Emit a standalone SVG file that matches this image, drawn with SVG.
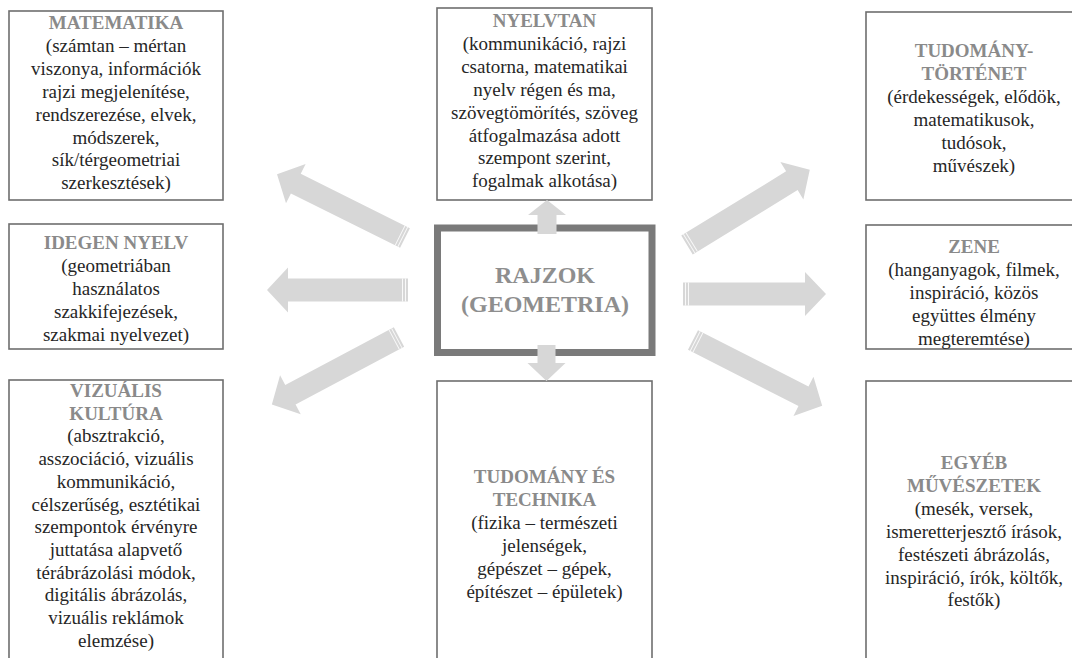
<svg xmlns="http://www.w3.org/2000/svg" width="1072" height="658" viewBox="0 0 1072 658">
<style>
  .box{fill:#ffffff;stroke:#6e6e6e;stroke-width:1.6}
  .core{fill:#ffffff;stroke:#7a7a7a;stroke-width:7}
  .t{font-size:19px;fill:#262626;text-anchor:middle}
  .h{font-weight:bold;fill:#8a8a8a}
  .big{font-size:24px;font-weight:bold;fill:#8e8e8e}
  .arr{fill:#d7d7d7}
  .tail{stroke:#ffffff;stroke-width:1;opacity:0.85}
</style>
<rect x="0" y="0" width="1072" height="658" fill="#ffffff"/>

<g id="n-matematika">
  <rect class="box" x="9" y="11" width="214" height="189"/>
  <text class="t" font-family="Liberation Serif, Times New Roman, Times, DejaVu Serif, serif" x="116" y="29"><tspan class="h" x="116">MATEMATIKA</tspan><tspan x="116" dy="22.9">(számtan – mértan</tspan><tspan x="116" dy="22.9">viszonya, információk</tspan><tspan x="116" dy="22.9">rajzi megjelenítése,</tspan><tspan x="116" dy="22.9">rendszerezése, elvek,</tspan><tspan x="116" dy="22.9">módszerek,</tspan><tspan x="116" dy="22.9">sík/térgeometriai</tspan><tspan x="116" dy="22.9">szerkesztések)</tspan></text>
</g>

<g id="n-nyelvtan">
  <rect class="box" x="437" y="8" width="215" height="192"/>
  <text class="t" font-family="Liberation Serif, Times New Roman, Times, DejaVu Serif, serif" x="544.5" y="27"><tspan class="h" x="544.5">NYELVTAN</tspan><tspan x="544.5" dy="22.9">(kommunikáció, rajzi</tspan><tspan x="544.5" dy="22.9">csatorna, matematikai</tspan><tspan x="544.5" dy="22.9">nyelv régen és ma,</tspan><tspan x="544.5" dy="22.9">szövegtömörítés, szöveg</tspan><tspan x="544.5" dy="22.9">átfogalmazása adott</tspan><tspan x="544.5" dy="22.9">szempont szerint,</tspan><tspan x="544.5" dy="22.9">fogalmak alkotása)</tspan></text>
</g>

<g id="n-tudomanytortenet">
  <rect class="box" x="866" y="12" width="215" height="188"/>
  <text class="t" font-family="Liberation Serif, Times New Roman, Times, DejaVu Serif, serif" x="974" y="57"><tspan class="h" x="974">TUDOMÁNY-</tspan><tspan class="h" x="974" dy="22.9">TÖRTÉNET</tspan><tspan x="974" dy="22.9">(érdekességek, elődök,</tspan><tspan x="974" dy="22.9">matematikusok,</tspan><tspan x="974" dy="22.9">tudósok,</tspan><tspan x="974" dy="22.9">művészek)</tspan></text>
</g>

<g id="n-idegen-nyelv">
  <rect class="box" x="9" y="224" width="214" height="125"/>
  <text class="t" font-family="Liberation Serif, Times New Roman, Times, DejaVu Serif, serif" x="116" y="249"><tspan class="h" x="116">IDEGEN NYELV</tspan><tspan x="116" dy="22.9">(geometriában</tspan><tspan x="116" dy="22.9">használatos</tspan><tspan x="116" dy="22.9">szakkifejezések,</tspan><tspan x="116" dy="22.9">szakmai nyelvezet)</tspan></text>
</g>

<g id="n-rajzok">
  <rect class="core" x="437.5" y="228" width="214.5" height="124.5"/>
  <text class="t big" font-family="Liberation Serif, Times New Roman, Times, DejaVu Serif, serif" x="545" y="283">RAJZOK</text>
  <text class="t big" font-family="Liberation Serif, Times New Roman, Times, DejaVu Serif, serif" x="545" y="312">(GEOMETRIA)</text>
</g>

<g id="n-zene">
  <rect class="box" x="866" y="225" width="215" height="124"/>
  <text class="t" font-family="Liberation Serif, Times New Roman, Times, DejaVu Serif, serif" x="974" y="253"><tspan class="h" x="974">ZENE</tspan><tspan x="974" dy="22.9">(hanganyagok, filmek,</tspan><tspan x="974" dy="22.9">inspiráció, közös</tspan><tspan x="974" dy="22.9">együttes élmény</tspan><tspan x="974" dy="22.9">megteremtése)</tspan></text>
</g>

<g id="n-vizualis-kultura">
  <rect class="box" x="9" y="380" width="214" height="300"/>
  <text class="t" font-family="Liberation Serif, Times New Roman, Times, DejaVu Serif, serif" x="116" y="397"><tspan class="h" x="116">VIZUÁLIS</tspan><tspan class="h" x="116" dy="22.7">KULTÚRA</tspan><tspan x="116" dy="22.7">(absztrakció,</tspan><tspan x="116" dy="22.7">asszociáció, vizuális</tspan><tspan x="116" dy="22.7">kommunikáció,</tspan><tspan x="116" dy="22.7">célszerűség, esztétikai</tspan><tspan x="116" dy="22.7">szempontok érvényre</tspan><tspan x="116" dy="22.7">juttatása alapvető</tspan><tspan x="116" dy="22.7">térábrázolási módok,</tspan><tspan x="116" dy="22.7">digitális ábrázolás,</tspan><tspan x="116" dy="22.7">vizuális reklámok</tspan><tspan x="116" dy="22.7">elemzése)</tspan></text>
</g>

<g id="n-tudomany-technika">
  <rect class="box" x="437" y="381" width="215" height="300"/>
  <text class="t" font-family="Liberation Serif, Times New Roman, Times, DejaVu Serif, serif" x="544.5" y="483"><tspan class="h" x="544.5">TUDOMÁNY ÉS</tspan><tspan class="h" x="544.5" dy="22.9">TECHNIKA</tspan><tspan x="544.5" dy="22.9">(fizika – természeti</tspan><tspan x="544.5" dy="22.9">jelenségek,</tspan><tspan x="544.5" dy="22.9">gépészet – gépek,</tspan><tspan x="544.5" dy="22.9">építészet – épületek)</tspan></text>
</g>

<g id="n-egyeb-muveszetek">
  <rect class="box" x="866" y="381" width="215" height="300"/>
  <text class="t" font-family="Liberation Serif, Times New Roman, Times, DejaVu Serif, serif" x="974" y="469"><tspan class="h" x="974">EGYÉB</tspan><tspan class="h" x="974" dy="22.9">MŰVÉSZETEK</tspan><tspan x="974" dy="22.9">(mesék, versek,</tspan><tspan x="974" dy="22.9">ismeretterjesztő írások,</tspan><tspan x="974" dy="22.9">festészeti ábrázolás,</tspan><tspan x="974" dy="22.9">inspiráció, írók, költők,</tspan><tspan x="974" dy="22.9">festők)</tspan></text>
</g>

<g id="connectors">
  <g transform="translate(405,238) rotate(206.5)">
    <polygon class="arr" points="0,-11 122,-11 122,-22 143,0 122,22 122,11 0,11"/>
    <line class="tail" x1="2.5" y1="-11" x2="2.5" y2="11"/><line class="tail" x1="5.5" y1="-11" x2="5.5" y2="11"/>
  </g>
  <g transform="translate(408,290) rotate(180)">
    <polygon class="arr" points="0,-11.5 120,-11.5 120,-22.5 141,0 120,22.5 120,11.5 0,11.5"/>
    <line class="tail" x1="2.5" y1="-11.5" x2="2.5" y2="11.5"/><line class="tail" x1="5.5" y1="-11.5" x2="5.5" y2="11.5"/>
  </g>
  <g transform="translate(399,337) rotate(152)">
    <polygon class="arr" points="0,-11 123,-11 123,-22 144,0 123,22 123,11 0,11"/>
    <line class="tail" x1="2.5" y1="-11" x2="2.5" y2="11"/><line class="tail" x1="5.5" y1="-11" x2="5.5" y2="11"/>
  </g>
  <g transform="translate(547,234) rotate(-90)">
    <polygon class="arr" points="0,-9.5 19,-9.5 19,-19 34,0 19,19 19,9.5 0,9.5"/>
  </g>
  <g transform="translate(546.5,345) rotate(90)">
    <polygon class="arr" points="0,-9 18,-9 18,-19 36,0 18,19 18,9 0,9"/>
  </g>
  <g transform="translate(687,245) rotate(-31.5)">
    <polygon class="arr" points="0,-11 123,-11 123,-22 144,0 123,22 123,11 0,11"/>
    <line class="tail" x1="2.5" y1="-11" x2="2.5" y2="11"/><line class="tail" x1="5.5" y1="-11" x2="5.5" y2="11"/>
  </g>
  <g transform="translate(683,294)">
    <polygon class="arr" points="0,-11.5 122,-11.5 122,-22 143,0 122,22 122,11.5 0,11.5"/>
    <line class="tail" x1="2.5" y1="-11.5" x2="2.5" y2="11.5"/><line class="tail" x1="5.5" y1="-11.5" x2="5.5" y2="11.5"/>
  </g>
  <g transform="translate(693,340) rotate(27)">
    <polygon class="arr" points="0,-11 124,-11 124,-22 145,0 124,22 124,11 0,11"/>
    <line class="tail" x1="2.5" y1="-11" x2="2.5" y2="11"/><line class="tail" x1="5.5" y1="-11" x2="5.5" y2="11"/>
  </g>
</g>
</svg>
